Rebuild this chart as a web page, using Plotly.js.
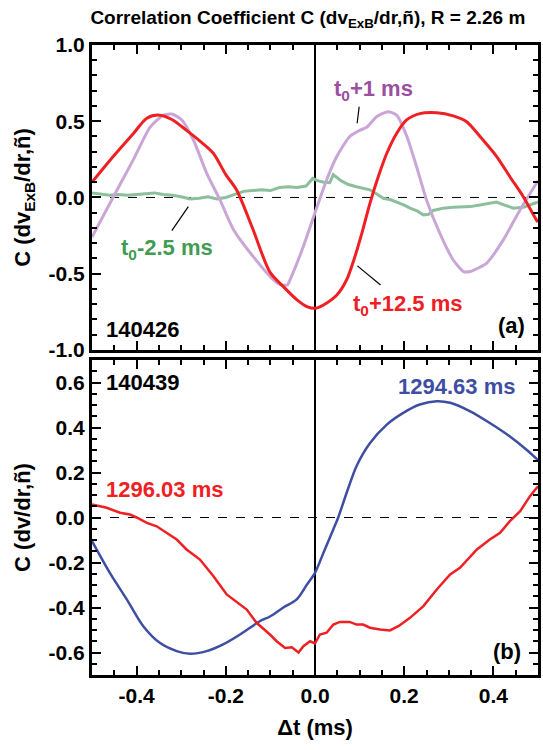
<!DOCTYPE html>
<html>
<head>
<meta charset="utf-8">
<script src="https://cdn.plot.ly/plotly-3.0.1.min.js"></script>
<style>body{margin:0;padding:0;background:#fff}#chart{width:543px;height:750px}</style>
</head>
<body>
<div id="chart"></div>
<script>
// ---- Panel (a): shot 140426 ----
const aRedX = [-0.5,-0.452,-0.407,-0.377,-0.348,-0.32,-0.288,-0.258,-0.228,-0.2,-0.176,-0.139,-0.101,-0.071,-0.041,-0.018,0.0,0.019,0.049,0.071,0.086,0.105,0.123,0.142,0.161,0.183,0.206,0.235,0.273,0.31,0.34,0.37,0.407,0.437,0.467,0.497,0.5];
const aRedY = [0.10,0.27,0.42,0.52,0.54,0.51,0.44,0.37,0.29,0.15,0.05,-0.21,-0.49,-0.585,-0.67,-0.716,-0.727,-0.705,-0.64,-0.54,-0.42,-0.235,-0.04,0.137,0.29,0.42,0.51,0.55,0.556,0.535,0.497,0.40,0.27,0.136,0.005,-0.15,-0.16];

const aPurX = [-0.5,-0.452,-0.407,-0.37,-0.34,-0.321,-0.299,-0.273,-0.243,-0.213,-0.183,-0.138,-0.093,-0.075,-0.062,-0.056,-0.026,0.0,0.026,0.049,0.078,0.1,0.116,0.138,0.164,0.183,0.206,0.228,0.25,0.28,0.31,0.333,0.348,0.385,0.422,0.46,0.5];
const aPurY = [-0.26,0.005,0.25,0.46,0.54,0.547,0.51,0.38,0.16,-0.016,-0.21,-0.39,-0.54,-0.574,-0.574,-0.54,-0.32,-0.10,0.115,0.27,0.40,0.44,0.46,0.53,0.563,0.54,0.40,0.20,-0.016,-0.235,-0.41,-0.486,-0.486,-0.43,-0.28,-0.08,0.11];

const aGrnX = [-0.5,-0.48,-0.46,-0.44,-0.42,-0.40,-0.38,-0.36,-0.34,-0.32,-0.30,-0.28,-0.26,-0.24,-0.22,-0.20,-0.18,-0.16,-0.14,-0.12,-0.10,-0.08,-0.06,-0.04,-0.02,-0.005,0.005,0.02,0.033,0.041,0.058,0.075,0.093,0.11,0.123,0.14,0.153,0.17,0.183,0.2,0.213,0.23,0.243,0.255,0.265,0.288,0.31,0.33,0.348,0.37,0.393,0.407,0.425,0.445,0.467,0.485,0.5];
const aGrnY = [0.03,0.02,0.015,0.02,0.015,0.02,0.025,0.03,0.02,0.015,0.005,-0.01,-0.005,0.005,-0.01,0.0,0.02,0.04,0.045,0.05,0.045,0.065,0.07,0.065,0.075,0.125,0.11,0.10,0.097,0.15,0.11,0.085,0.07,0.06,0.05,0.02,-0.005,-0.015,-0.03,-0.05,-0.07,-0.09,-0.115,-0.11,-0.085,-0.07,-0.065,-0.062,-0.06,-0.05,-0.04,-0.03,-0.05,-0.07,-0.065,-0.045,-0.03];

// ---- Panel (b): shot 140439 ----
const bBluX = [-0.5,-0.46,-0.422,-0.385,-0.348,-0.31,-0.28,-0.243,-0.206,-0.168,-0.123,-0.101,-0.071,-0.041,-0.018,0.0,0.022,0.041,0.052,0.071,0.093,0.123,0.161,0.198,0.235,0.273,0.303,0.348,0.392,0.437,0.475,0.5];
const bBluY = [-0.105,-0.246,-0.364,-0.483,-0.557,-0.594,-0.606,-0.594,-0.564,-0.52,-0.46,-0.44,-0.40,-0.364,-0.298,-0.246,-0.142,-0.053,0.0,0.11,0.228,0.33,0.413,0.465,0.502,0.517,0.51,0.472,0.42,0.36,0.30,0.255];

const bRedX = [-0.5,-0.467,-0.437,-0.415,-0.4,-0.377,-0.355,-0.333,-0.31,-0.288,-0.258,-0.228,-0.198,-0.153,-0.131,-0.101,-0.086,-0.067,-0.052,-0.037,-0.026,-0.011,0.0,0.011,0.026,0.041,0.056,0.078,0.093,0.108,0.123,0.146,0.168,0.187,0.213,0.243,0.273,0.303,0.325,0.363,0.392,0.415,0.437,0.46,0.482,0.5];
const bRedY = [0.058,0.043,0.021,0.013,0.0,-0.024,-0.039,-0.068,-0.098,-0.142,-0.187,-0.26,-0.342,-0.409,-0.468,-0.52,-0.55,-0.58,-0.577,-0.60,-0.572,-0.55,-0.56,-0.52,-0.512,-0.476,-0.464,-0.464,-0.476,-0.476,-0.49,-0.498,-0.502,-0.483,-0.446,-0.394,-0.32,-0.253,-0.224,-0.142,-0.098,-0.068,-0.016,0.028,0.095,0.139];

// ---- Tick labels ----
const xTickVals = [-0.4,-0.2,0.0,0.2,0.4];
const xTickText = ['-0.4','-0.2','0.0','0.2','0.4'];
const aTickVals = [-1.0,-0.5,0.0,0.5,1.0];
const aTickText = ['-1.0','-0.5','0.0','0.5','1.0'];
const bTickVals = [-0.6,-0.4,-0.2,0.0,0.2,0.4,0.6];
const bTickText = ['-0.6','-0.4','-0.2','0.0','0.2','0.4','0.6'];

const RED = '#ee2024', PUR = '#c9a6d6', PURT = '#9b4fa0', GRN = '#8cbf9c', GRNT = '#3f9c52', BLU = '#3e4ea3';
const FF = 'Liberation Sans, Arial, sans-serif';

const traces = [
  {x:aGrnX, y:aGrnY, xaxis:'x2', yaxis:'y2', mode:'lines', line:{color:GRN, width:3}},
  {x:aPurX, y:aPurY, xaxis:'x2', yaxis:'y2', mode:'lines', line:{color:PUR, width:3, shape:'spline', smoothing:0.6}},
  {x:aRedX, y:aRedY, xaxis:'x2', yaxis:'y2', mode:'lines', line:{color:RED, width:3, shape:'spline', smoothing:0.8}},
  {x:bBluX, y:bBluY, xaxis:'x', yaxis:'y', mode:'lines', line:{color:BLU, width:2.5, shape:'spline', smoothing:0.8}},
  {x:bRedX, y:bRedY, xaxis:'x', yaxis:'y', mode:'lines', line:{color:RED, width:2.5}}
];

const TF = {family:FF, size:21, color:'#000', weight:'bold'};
const AF = {family:FF, size:22, color:'#000', weight:'bold'};
const axCommon = {
  showline:true, linecolor:'#000', linewidth:3, mirror:'ticks',
  ticks:'inside', ticklen:9, tickwidth:2, tickcolor:'#000',
  showgrid:false, fixedrange:true,
  tickfont:TF
};
function ann(x, y, text, color, ax, ay){
  return {xref:ax, yref:ay, x:x, y:y, text:text, showarrow:false, font:{family:FF, size:22, color:color, weight:'bold'}};
}

const layout = {
  width:543, height:750,
  margin:{l:92, r:5, t:45, b:75},
  paper_bgcolor:'#fff', plot_bgcolor:'#fff',
  showlegend:false,
  font:{family:FF, color:'#000', weight:'bold'},
  title:{text:'Correlation Coefficient C (dv<sub>ExB</sub>/dr,ñ), R = 2.26 m', font:{family:FF, size:19, weight:'bold', color:'#000'}, x:0.567, xref:'container', xanchor:'center', y:0.977, yref:'container', yanchor:'middle'},
  xaxis: Object.assign({}, axCommon, {domain:[0,1], anchor:'y', range:[-0.5,0.5], tickvals:xTickVals, ticktext:xTickText,
    minor:{ticks:'inside', ticklen:5, tickwidth:2, dtick:0.05, tickcolor:'#000'},
    zeroline:true, zerolinecolor:'#000', zerolinewidth:1.2,
    title:{text:'Δt (ms)', font:AF, standoff:14}}),
  yaxis: Object.assign({}, axCommon, {domain:[0,0.5], anchor:'x', range:[-0.7,0.7], tickvals:bTickVals, ticktext:bTickText,
    minor:{ticks:'inside', ticklen:5, tickwidth:2, dtick:0.05, tickcolor:'#000'},
    zeroline:false,
    title:{text:'C (dv/dr,ñ)', font:AF, standoff:12}}),
  xaxis2: Object.assign({}, axCommon, {domain:[0,1], anchor:'y2', range:[-0.5,0.5], tickvals:xTickVals, showticklabels:false,
    minor:{ticks:'inside', ticklen:5, tickwidth:2, dtick:0.05, tickcolor:'#000'},
    zeroline:true, zerolinecolor:'#000', zerolinewidth:1.2}),
  yaxis2: Object.assign({}, axCommon, {domain:[0.516,1], anchor:'x2', range:[-1,1], tickvals:aTickVals, ticktext:aTickText,
    minor:{ticks:'inside', ticklen:5, tickwidth:2, dtick:0.1, tickcolor:'#000'},
    zeroline:false,
    title:{text:'C (dv<sub>ExB</sub>/dr,ñ)', font:AF, standoff:12}}),
  shapes:[
    {type:'line', xref:'x2 domain', x0:0, x1:1, yref:'y2', y0:0, y1:0, line:{color:'#000', width:1, dash:'dash'}, layer:'below'},
    {type:'line', xref:'x domain', x0:0, x1:1, yref:'y', y0:0, y1:0, line:{color:'#000', width:1, dash:'dash'}, layer:'below'},
    {type:'line', xref:'x2', yref:'y2', x0:0.099, y0:0.595, x1:0.0945, y1:0.487, line:{color:'#000', width:1.2}},
    {type:'line', xref:'x2', yref:'y2', x0:-0.284, y0:-0.06, x1:-0.321, y1:-0.218, line:{color:'#000', width:1.2}},
    {type:'line', xref:'x2', yref:'y2', x0:0.095, y0:-0.449, x1:0.147, y1:-0.574, line:{color:'#000', width:1.2}}
  ],
  annotations:[
    ann(0.132, 0.705, 't<sub>0</sub>+1 ms', PURT, 'x2', 'y2'),
    ann(-0.331, -0.34, 't<sub>0</sub>-2.5 ms', GRNT, 'x2', 'y2'),
    ann(0.2085, -0.705, 't<sub>0</sub>+12.5 ms', RED, 'x2', 'y2'),
    ann(-0.387, -0.869, '140426', '#000', 'x2', 'y2'),
    ann(0.44, -0.843, '(a)', '#000', 'x2', 'y2'),
    ann(-0.387, 0.6, '140439', '#000', 'x', 'y'),
    ann(0.317, 0.584, '1294.63 ms', BLU, 'x', 'y'),
    ann(-0.337, 0.124, '1296.03 ms', RED, 'x', 'y'),
    ann(0.43, -0.594, '(b)', '#000', 'x', 'y')
  ]
};

Plotly.newPlot('chart', traces, layout, {staticPlot:true, displayModeBar:false});
</script>
</body>
</html>
